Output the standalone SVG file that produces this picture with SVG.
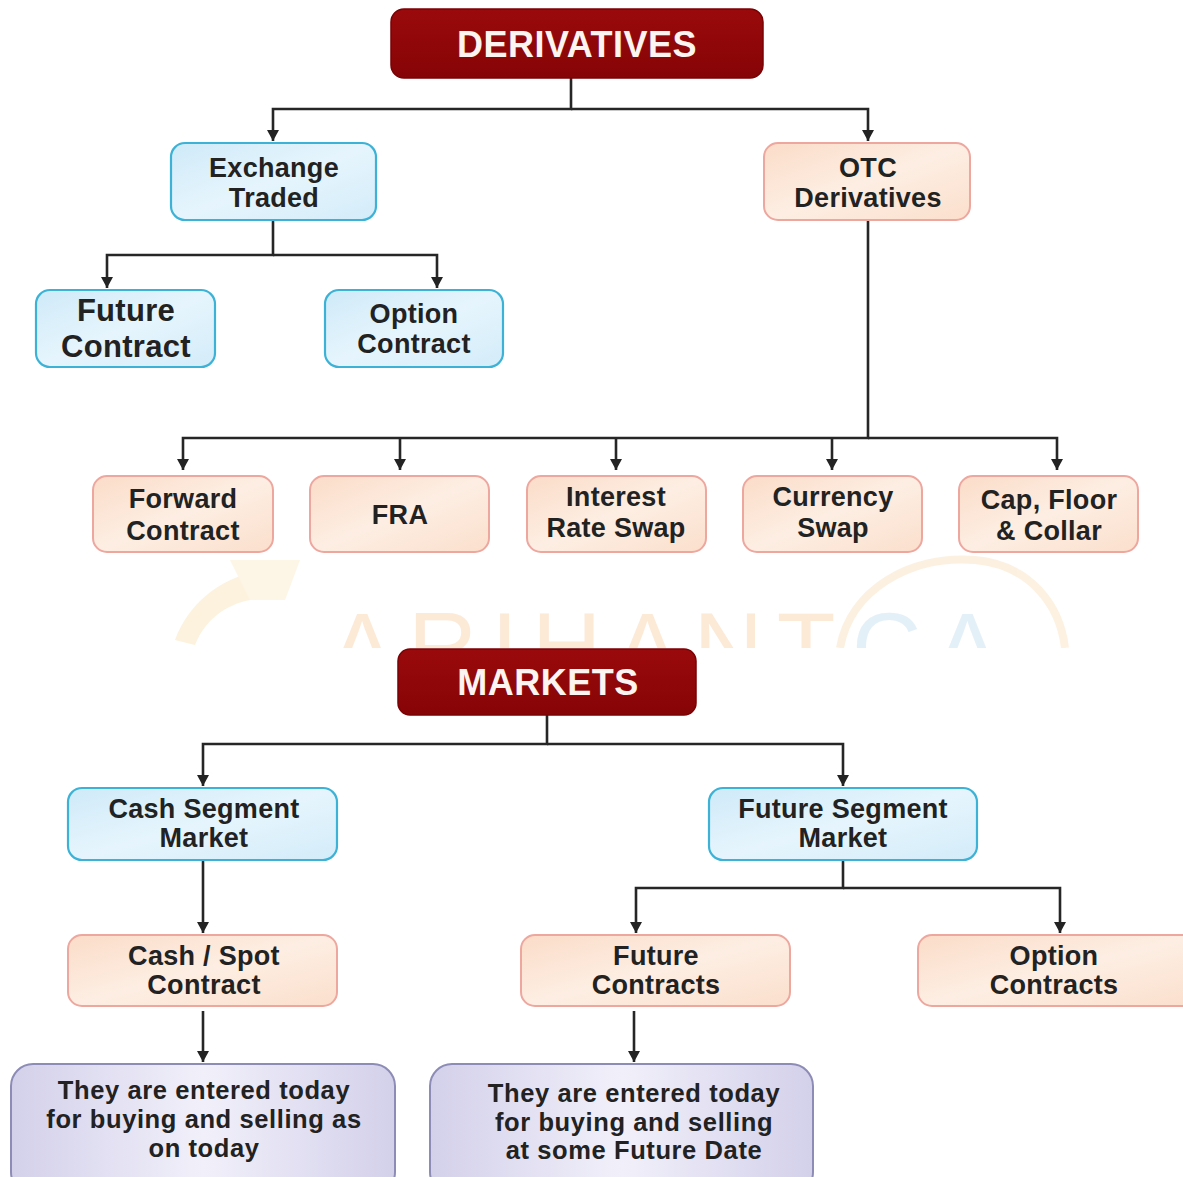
<svg xmlns="http://www.w3.org/2000/svg" width="1183" height="1177" viewBox="0 0 1183 1177">
  <defs>
    <linearGradient id="gBlue" x1="0" y1="0" x2="1" y2="1">
      <stop offset="0" stop-color="#cfeaf8"/>
      <stop offset="0.5" stop-color="#e6f5fd"/>
      <stop offset="1" stop-color="#d3ecf9"/>
    </linearGradient>
    <linearGradient id="gPeach" x1="0" y1="0" x2="1" y2="1">
      <stop offset="0" stop-color="#fbdcc8"/>
      <stop offset="0.5" stop-color="#fdeee3"/>
      <stop offset="1" stop-color="#fbdfcc"/>
    </linearGradient>
    <linearGradient id="gPurple" x1="0" y1="0" x2="1" y2="0">
      <stop offset="0" stop-color="#d3d0ea"/>
      <stop offset="0.5" stop-color="#f1f0fa"/>
      <stop offset="1" stop-color="#d3d0ea"/>
    </linearGradient>
    <linearGradient id="gRed" x1="0" y1="0" x2="0" y2="1">
      <stop offset="0" stop-color="#9a0a0c"/>
      <stop offset="1" stop-color="#860406"/>
    </linearGradient>
    <marker id="arrow" markerUnits="userSpaceOnUse" markerWidth="12" markerHeight="12" refX="11" refY="6" orient="auto">
      <path d="M0,0 L11,6 L0,12 Z" fill="#232323"/>
    </marker>
    <clipPath id="wmClip">
      <rect x="0" y="555" width="1183" height="93"/>
    </clipPath>
    <style>
      .title { fill: url(#gRed); stroke: #7a0204; stroke-width: 1.5; }
      .title-text { font-family: "Liberation Sans", Arial, sans-serif; font-weight: bold; font-size: 36px; fill: #fbf4f0; text-anchor: middle; letter-spacing: 0.5px; }
      .blue { fill: url(#gBlue); stroke: #3cb3d6; stroke-width: 2.2; }
      .peach { fill: url(#gPeach); stroke: #eea79f; stroke-width: 2; }
      .purple { fill: url(#gPurple); stroke: #8d8cb6; stroke-width: 2; }
      .label { font-family: "Liberation Sans", Arial, sans-serif; font-weight: bold; font-size: 27px; fill: #222; text-anchor: middle; letter-spacing: 0.3px; }
      .big { font-size: 31px; }
      .note { font-size: 25.5px; letter-spacing: 0.6px; }
      .wire { fill: none; stroke: #262626; stroke-width: 2.6; }
      .wm { font-family: "Liberation Sans", Arial, sans-serif; font-size: 96px; letter-spacing: 14px; }
    </style>
  </defs>

  <rect width="1183" height="1177" fill="#ffffff"/>

  <!-- faint background watermark between the two charts -->
  <g id="watermark" clip-path="url(#wmClip)" opacity="0.55">
    <path d="M175,640 C190,600 225,575 265,570 L250,600 C225,605 205,620 195,645 Z" fill="#fde8c4"/>
    <path d="M230,560 L300,560 L285,600 L250,600 Z" fill="#fdedd2"/>
    <text class="wm" x="330" y="680" fill="#fbd9b8">ARIHANT</text>
    <text class="wm" x="852" y="680" fill="#cfe4f3">CA</text>
    <path d="M840,648 C850,590 910,555 975,560 C1030,565 1060,605 1065,648" fill="none" stroke="#fbe6c8" stroke-width="8"/>
  </g>

  <!-- connectors -->
  <g id="connectors">
    <path class="wire" d="M571,78 V109 H273 V141" marker-end="url(#arrow)"/>
    <path class="wire" d="M571,109 H868 V141" marker-end="url(#arrow)"/>

    <path class="wire" d="M273,221 V255 H107 V288" marker-end="url(#arrow)"/>
    <path class="wire" d="M273,255 H437 V288" marker-end="url(#arrow)"/>

    <path class="wire" d="M868,221 V438 H183 V470" marker-end="url(#arrow)"/>
    <path class="wire" d="M868,438 H1057 V470" marker-end="url(#arrow)"/>
    <path class="wire" d="M400,438 V470" marker-end="url(#arrow)"/>
    <path class="wire" d="M616,438 V470" marker-end="url(#arrow)"/>
    <path class="wire" d="M832,438 V470" marker-end="url(#arrow)"/>

    <path class="wire" d="M547,715 V744 H203 V786" marker-end="url(#arrow)"/>
    <path class="wire" d="M547,744 H843 V786" marker-end="url(#arrow)"/>

    <path class="wire" d="M203,861 V933" marker-end="url(#arrow)"/>
    <path class="wire" d="M203,1011 V1062" marker-end="url(#arrow)"/>

    <path class="wire" d="M843,861 V888 H636 V933" marker-end="url(#arrow)"/>
    <path class="wire" d="M843,888 H1060 V933" marker-end="url(#arrow)"/>

    <path class="wire" d="M634,1011 V1062" marker-end="url(#arrow)"/>
  </g>

  <!-- derivatives chart -->
  <g id="derivatives">
    <rect class="title" x="391" y="9" width="372" height="69" rx="13"/>
    <text class="title-text" x="577" y="57">DERIVATIVES</text>
  </g>

  <g id="exchange-traded">
    <rect class="blue" x="171" y="143" width="205" height="77" rx="14"/>
    <text class="label" x="274" y="177">Exchange</text>
    <text class="label" x="274" y="207">Traded</text>
  </g>

  <g id="otc-derivatives">
    <rect class="peach" x="764" y="143" width="206" height="77" rx="14"/>
    <text class="label" x="868" y="177">OTC</text>
    <text class="label" x="868" y="207">Derivatives</text>
  </g>

  <g id="future-contract">
    <rect class="blue" x="36" y="290" width="179" height="77" rx="14"/>
    <text class="label big" x="126" y="321">Future</text>
    <text class="label big" x="126" y="357">Contract</text>
  </g>

  <g id="option-contract">
    <rect class="blue" x="325" y="290" width="178" height="77" rx="14"/>
    <text class="label" x="414" y="323">Option</text>
    <text class="label" x="414" y="353">Contract</text>
  </g>

  <g id="forward-contract">
    <rect class="peach" x="93" y="476" width="180" height="76" rx="14"/>
    <text class="label" x="183" y="508">Forward</text>
    <text class="label" x="183" y="540">Contract</text>
  </g>

  <g id="fra">
    <rect class="peach" x="310" y="476" width="179" height="76" rx="14"/>
    <text class="label" x="400" y="524">FRA</text>
  </g>

  <g id="interest-rate-swap">
    <rect class="peach" x="527" y="476" width="179" height="76" rx="14"/>
    <text class="label" x="616" y="506">Interest</text>
    <text class="label" x="616" y="537">Rate Swap</text>
  </g>

  <g id="currency-swap">
    <rect class="peach" x="743" y="476" width="179" height="76" rx="14"/>
    <text class="label" x="833" y="506">Currency</text>
    <text class="label" x="833" y="537">Swap</text>
  </g>

  <g id="cap-floor-collar">
    <rect class="peach" x="959" y="476" width="179" height="76" rx="14"/>
    <text class="label" x="1049" y="509">Cap, Floor</text>
    <text class="label" x="1049" y="540">&amp; Collar</text>
  </g>

  <!-- markets chart -->
  <g id="markets">
    <rect class="title" x="398" y="649" width="298" height="66" rx="12"/>
    <text class="title-text" x="548" y="695">MARKETS</text>
  </g>

  <g id="cash-segment-market">
    <rect class="blue" x="68" y="788" width="269" height="72" rx="14"/>
    <text class="label" x="204" y="818">Cash Segment</text>
    <text class="label" x="204" y="847">Market</text>
  </g>

  <g id="future-segment-market">
    <rect class="blue" x="709" y="788" width="268" height="72" rx="14"/>
    <text class="label" x="843" y="818">Future Segment</text>
    <text class="label" x="843" y="847">Market</text>
  </g>

  <g id="cash-spot-contract">
    <rect class="peach" x="68" y="935" width="269" height="71" rx="14"/>
    <text class="label" x="204" y="965">Cash / Spot</text>
    <text class="label" x="204" y="994">Contract</text>
  </g>

  <g id="future-contracts">
    <rect class="peach" x="521" y="935" width="269" height="71" rx="14"/>
    <text class="label" x="656" y="965">Future</text>
    <text class="label" x="656" y="994">Contracts</text>
  </g>

  <g id="option-contracts">
    <rect class="peach" x="918" y="935" width="280" height="71" rx="14"/>
    <text class="label" x="1054" y="965">Option</text>
    <text class="label" x="1054" y="994">Contracts</text>
  </g>

  <g id="cash-note">
    <rect class="purple" x="11" y="1064" width="384" height="130" rx="22"/>
    <text class="label note" x="204" y="1099">They are entered today</text>
    <text class="label note" x="204" y="1128">for buying and selling as</text>
    <text class="label note" x="204" y="1157">on today</text>
  </g>

  <g id="future-note">
    <rect class="purple" x="430" y="1064" width="383" height="130" rx="22"/>
    <text class="label note" x="634" y="1102">They are entered today</text>
    <text class="label note" x="634" y="1131">for buying and selling</text>
    <text class="label note" x="634" y="1159">at some Future Date</text>
  </g>
</svg>
